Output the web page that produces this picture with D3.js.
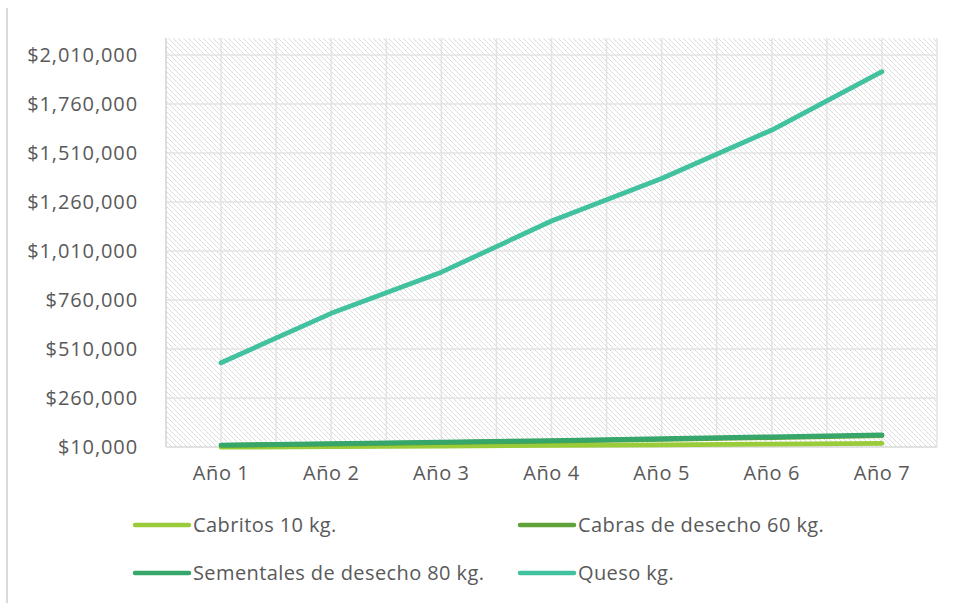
<!DOCTYPE html>
<html>
<head>
<meta charset="utf-8">
<script src="https://cdn.jsdelivr.net/npm/d3@7"></script>
<style>
  html, body { margin: 0; padding: 0; background: #fff; }
  svg text { font-family: "Open Sans", "Noto Sans", sans-serif; fill: #595959; }
</style>
</head>
<body>
<svg id="chart" width="954" height="603"></svg>
<script>
// Ingresos proyectados por producto
const years = ["Año 1", "Año 2", "Año 3", "Año 4", "Año 5", "Año 6", "Año 7"];
const cabritos = [9000, 12000, 15000, 18000, 21000, 25000, 29000];
const cabras = [18000, 25000, 32000, 40000, 49000, 58000, 68000];
const sementales = [20000, 27000, 35000, 43000, 52000, 62000, 72000];
const queso = [440000, 692000, 902000, 1163000, 1380000, 1627000, 1925000];
const yTicks = [10000, 260000, 510000, 760000, 1010000, 1260000, 1510000, 1760000, 2010000];

const seriesNames = ["Cabritos 10 kg.", "Cabras de desecho 60 kg.", "Sementales de desecho 80 kg.", "Queso kg."];
const seriesValues = [cabritos, cabras, sementales, queso];
const seriesColors = ["#9acb38", "#5fa33a", "#37a66b", "#41c19d"];

const svg = d3.select("#chart");
const plot = { left: 166, right: 937, top: 38, bottom: 447 };

const x = d3.scaleBand().domain(years).range([plot.left, plot.right]);
const y = d3.scaleLinear().domain([10000, 2010000]).range([447, 55]);

// Hatch fill for the plot area: dotted downward diagonals
const defs = svg.append("defs");
const P = 5;
const pat = defs.append("pattern")
  .attr("id", "hatch").attr("patternUnits", "userSpaceOnUse")
  .attr("width", P).attr("height", P);
pat.append("rect").attr("width", P).attr("height", P).attr("fill", "#ffffff");
for (let i = 0; i < P; i++) {
  pat.append("rect").attr("x", i).attr("y", i).attr("width", 1).attr("height", 1)
    .attr("fill", i % 2 === 0 ? "#d9d9d9" : "#e4e4e4");
}

// Outer border fragment on the left
svg.append("line").attr("x1", 7).attr("x2", 7).attr("y1", 8).attr("y2", 603)
  .attr("stroke", "#d9d9d9").attr("stroke-width", 2);

svg.append("rect")
  .attr("x", plot.left).attr("y", plot.top)
  .attr("width", plot.right - plot.left).attr("height", plot.bottom - plot.top)
  .attr("fill", "url(#hatch)");

// Vertical gridlines at band centres and band edges
const vLines = [];
years.forEach(d => { vLines.push(x(d)); vLines.push(x(d) + x.bandwidth() / 2); });
vLines.push(plot.right);
svg.append("g").selectAll("line").data(vLines).join("line")
  .attr("x1", d => d).attr("x2", d => d)
  .attr("y1", plot.top).attr("y2", plot.bottom)
  .attr("stroke", "#e3e3e3").attr("stroke-width", 1.5);

// Horizontal gridlines
svg.append("g").selectAll("line").data(yTicks.slice(1)).join("line")
  .attr("x1", plot.left).attr("x2", plot.right)
  .attr("y1", d => y(d)).attr("y2", d => y(d))
  .attr("stroke", "#e3e3e3").attr("stroke-width", 1.5);

// Left and bottom axis lines
svg.append("line").attr("x1", plot.left).attr("x2", plot.left)
  .attr("y1", plot.top).attr("y2", plot.bottom)
  .attr("stroke", "#d9d9d9").attr("stroke-width", 1.5);
svg.append("line").attr("x1", plot.left).attr("x2", plot.right)
  .attr("y1", plot.bottom).attr("y2", plot.bottom)
  .attr("stroke", "#d9d9d9").attr("stroke-width", 1.5);

// Y axis labels
const yAxis = d3.axisLeft(y).tickValues(yTicks)
  .tickFormat(d => "$" + d3.format(",")(d)).tickSize(0).tickPadding(0);
const gy = svg.append("g").attr("transform", "translate(138,0)").call(yAxis);
gy.select(".domain").remove();
gy.selectAll("text").attr("font-size", 20).attr("fill", "#595959")
  .attr("letter-spacing", 0.9)
  .style("font-family", '"Open Sans", sans-serif');

// X axis labels
const xAxis = d3.axisBottom(x).tickSize(0).tickPadding(0);
const gx = svg.append("g").attr("transform", "translate(0,466)").call(xAxis);
gx.select(".domain").remove();
gx.selectAll("text").attr("font-size", 20).attr("fill", "#595959")
  .attr("letter-spacing", 0.6)
  .style("font-family", '"Open Sans", sans-serif');

// Series lines
const line = d3.line()
  .x((d, i) => x(years[i]) + x.bandwidth() / 2)
  .y(d => y(d));
svg.append("g").selectAll("path").data(seriesValues).join("path")
  .attr("d", d => line(d))
  .attr("fill", "none")
  .attr("stroke", (d, i) => seriesColors[i])
  .attr("stroke-width", 4.8)
  .attr("stroke-linecap", "round")
  .attr("stroke-linejoin", "round");

// Legend
const legendPos = [[135, 525], [520, 525], [135, 573], [520, 573]];
const lg = svg.append("g").selectAll("g").data(seriesNames).join("g")
  .attr("transform", (d, i) => `translate(${legendPos[i][0]},${legendPos[i][1]})`);
lg.append("line").attr("x1", 0).attr("x2", 54).attr("y1", 0).attr("y2", 0)
  .attr("stroke", (d, i) => seriesColors[i]).attr("stroke-width", 4.5)
  .attr("stroke-linecap", "round");
lg.append("text").attr("x", 58).attr("y", 0).attr("dy", "0.35em")
  .attr("font-size", 20).attr("letter-spacing", 0.4).text(d => d);
</script>
</body>
</html>
